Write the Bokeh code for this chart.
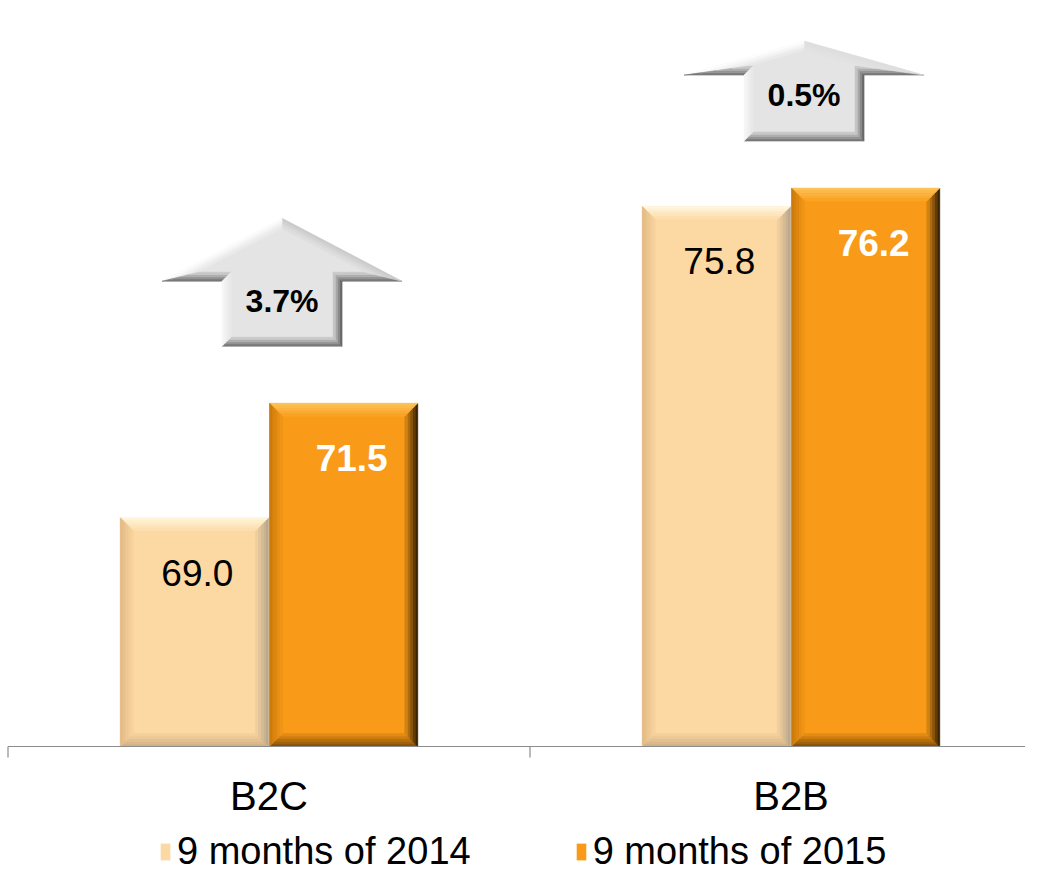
import numpy as np
from bokeh.plotting import figure
from bokeh.models import Range1d, Legend, LegendItem
from bokeh.core.properties import value
from bokeh.embed import file_html
from bokeh.resources import INLINE

# ---------------- data ----------------
categories = ["B2C", "B2B"]
series_names = ["9 months of 2014", "9 months of 2015"]
values_2014 = [69.0, 75.8]
values_2015 = [71.5, 76.2]
growth_labels = ["3.7%", "0.5%"]

# ---------------- layout / style ----------------
FONT = "Liberation Sans"
W, H = 1025, 873
PX_PER_CAT = 522.0
PX_PER_UNIT = 45.77
LEFT_PAD_PX = 7.5
Y0 = 64.0                      # value axis baseline
BELOW_PX = 127                 # room under the baseline for labels + legend
Y_MIN = Y0 - BELOW_PX / PX_PER_UNIT
Y_MAX = Y0 + (H - BELOW_PX) / PX_PER_UNIT
X_MIN = -LEFT_PAD_PX / PX_PER_CAT
X_MAX = X_MIN + W / PX_PER_CAT
BAR_W = 0.284
BAR_OFF = 0.143
TICK_PX = 11
CAT_LABEL_PX = 49
VAL_LABEL_PX = 55
# arrow geometry in px: (gap above tallest bar, body height, head height)
ARROW_GEOM = [(57, 65, 63), (47, 66, 34)]
ARROW_HALF_W = 120 / PX_PER_CAT
ARROW_SHAFT_HALF_W = 60 / PX_PER_CAT
ARROW_DX = 0.025

LIGHT = "#FCD8A2"
ORANGE = "#F99B18"
GREY = "#E4E4E4"
AXIS_GREY = "#8c8c8c"
PAL_LIGHT = dict(up="#FFF6DC", down="#D2B185", left="#E2BB86", right="#BBA78C")
PAL_ORANGE = dict(up="#FDC258", down="#8A5208", left="#CC7A0C", right="#3C2403")
PAL_GREY = dict(up="#FFFFFF", down="#787878", left="#F6F6F6", right="#686868")


def hex2rgb(h):
    h = h.lstrip("#")
    return np.array([int(h[i:i + 2], 16) for i in (0, 2, 4)], dtype=float)


def rgb2hex(c):
    c = np.clip(np.round(c), 0, 255).astype(int)
    return "#%02x%02x%02x" % tuple(c)


def face_color(nx, ny, pal):
    w = {"up": max(ny, 0), "down": max(-ny, 0), "left": max(-nx, 0), "right": max(nx, 0)}
    tot = sum(w.values())
    return sum(hex2rgb(pal[k]) * w[k] for k in w) / tot


def inset(pts, d):
    n = len(pts)
    out = []
    for i in range(n):
        p_prev, p, p_next = pts[i - 1], pts[i], pts[(i + 1) % n]
        u1 = p - p_prev
        u2 = p_next - p
        n1 = np.array([u1[1], -u1[0]]) / np.hypot(*u1)
        n2 = np.array([u2[1], -u2[0]]) / np.hypot(*u2)
        a1 = p_prev - d * n1
        a2 = p - d * n2
        cr = u1[0] * u2[1] - u1[1] * u2[0]
        if abs(cr) < 1e-9:
            out.append(p - d * n2)
            continue
        diff = a2 - a1
        t = (diff[0] * u2[1] - diff[1] * u2[0]) / cr
        out.append(a1 + t * u1)
    return out


def bevel(poly, depth, steps, pal, base):
    """poly: CCW list of data points; returns xs, ys, colors of bevel bands."""
    pts = [np.array([x * PX_PER_CAT, y * PX_PER_UNIT]) for x, y in poly]
    base_c = hex2rgb(base)
    xs, ys, cols = [], [], []
    n = len(pts)
    for k in range(steps):
        P0 = inset(pts, depth * k / steps)
        P1 = inset(pts, depth * (k + 1) / steps)
        t = k / steps
        for i in range(n):
            j = (i + 1) % n
            e = pts[j] - pts[i]
            nrm = np.array([e[1], -e[0]]) / np.hypot(*e)
            fc = face_color(nrm[0], nrm[1], pal)
            c = fc * (1 - t) + base_c * t
            quad = [P0[i], P0[j], P1[j], P1[i]]
            xs.append([q[0] / PX_PER_CAT for q in quad])
            ys.append([q[1] / PX_PER_UNIT for q in quad])
            cols.append(rgb2hex(c))
    return xs, ys, cols


def rect_poly(l, r, b, t):
    return [(l, b), (r, b), (r, t), (l, t)]


# ---------------- figure ----------------
p = figure(width=W, height=H,
           x_range=Range1d(X_MIN, X_MAX), y_range=Range1d(Y_MIN, Y_MAX),
           output_backend="svg", toolbar_location=None,
           x_axis_location=None, y_axis_location=None,
           min_border=0, outline_line_color=None)
p.grid.visible = False
p.background_fill_color = "white"

idx = np.arange(len(categories))
centers = idx + 0.5
x14 = centers - BAR_OFF
x15 = centers + BAR_OFF

r14 = p.vbar(x=x14, top=values_2014, bottom=Y0, width=BAR_W,
             fill_color=LIGHT, line_color=None)
r15 = p.vbar(x=x15, top=values_2015, bottom=Y0, width=BAR_W,
             fill_color=ORANGE, line_color=None)

# bevels on bars
bx, by, bc = [], [], []
for xc, v in zip(x14, values_2014):
    a, b, c = bevel(rect_poly(xc - BAR_W / 2, xc + BAR_W / 2, Y0, v), 13, 5, PAL_LIGHT, LIGHT)
    bx += a; by += b; bc += c
for xc, v in zip(x15, values_2015):
    a, b, c = bevel(rect_poly(xc - BAR_W / 2, xc + BAR_W / 2, Y0, v), 13, 5, PAL_ORANGE, ORANGE)
    bx += a; by += b; bc += c
p.patches(xs=bx, ys=by, fill_color=bc, line_color=bc, line_width=0.6)

# category axis: baseline, boundary ticks and labels
bounds = np.arange(len(categories) + 1)
p.segment(x0=[bounds[0]], y0=[Y0], x1=[X_MAX], y1=[Y0],
          line_color=AXIS_GREY, line_width=1.2)
p.segment(x0=bounds, y0=Y0, x1=bounds, y1=Y0 - TICK_PX / PX_PER_UNIT,
          line_color=AXIS_GREY, line_width=1.2)
p.text(x=centers, y=Y0, text=categories, text_align="center",
       text_baseline="middle", y_offset=CAT_LABEL_PX, text_font=value(FONT),
       text_font_size="40px", text_color="black")

# value labels
p.text(x=x14, y=values_2014, text=[f"{v:.1f}" for v in values_2014],
       text_align="center", text_baseline="middle", x_offset=3,
       y_offset=VAL_LABEL_PX, text_font=value(FONT), text_font_size="37px",
       text_color="black")
p.text(x=x15, y=values_2015, text=[f"{v:.1f}" for v in values_2015],
       text_align="center", text_baseline="middle", x_offset=8,
       y_offset=VAL_LABEL_PX, text_font=value(FONT), text_font_size="37px",
       text_font_style="bold", text_color="white")

# growth arrows
ax_, ay_, ac_ = [], [], []
arrow_cx, arrow_cy = [], []
for i in idx:
    top_val = max(values_2014[i], values_2015[i])
    gap, body, head = ARROW_GEOM[i]
    yb = top_val + gap / PX_PER_UNIT
    ys_ = yb + body / PX_PER_UNIT
    yt = ys_ + head / PX_PER_UNIT
    cx = centers[i] + ARROW_DX
    poly = [(cx - ARROW_SHAFT_HALF_W, yb), (cx + ARROW_SHAFT_HALF_W, yb),
            (cx + ARROW_SHAFT_HALF_W, ys_), (cx + ARROW_HALF_W, ys_),
            (cx, yt), (cx - ARROW_HALF_W, ys_), (cx - ARROW_SHAFT_HALF_W, ys_)]
    p.patch(x=[q[0] for q in poly], y=[q[1] for q in poly], fill_color=GREY,
            line_color=None)
    a, b, c = bevel(poly, 9, 4, PAL_GREY, GREY)
    ax_ += a; ay_ += b; ac_ += c
    arrow_cx.append(cx)
    arrow_cy.append((yb + ys_) / 2)
p.patches(xs=ax_, ys=ay_, fill_color=ac_, line_color=ac_, line_width=0.6)
p.text(x=arrow_cx, y=arrow_cy, text=growth_labels, text_align="center",
       text_baseline="middle", y_offset=-13, text_font=value(FONT),
       text_font_size="32px", text_font_style="bold", text_color="black")

legend = Legend(items=[LegendItem(label=series_names[0], renderers=[r14]),
                       LegendItem(label=series_names[1], renderers=[r15])],
                orientation="horizontal", location=(159, 0),
                label_text_font=FONT, label_text_font_size="38px",
                label_text_color="black",
                glyph_width=12, glyph_height=21, label_standoff=6,
                spacing=104, padding=0, margin=0, border_line_color=None,
                background_fill_alpha=0)
p.add_layout(legend)

open("out.html", "w").write(file_html(p, INLINE))
